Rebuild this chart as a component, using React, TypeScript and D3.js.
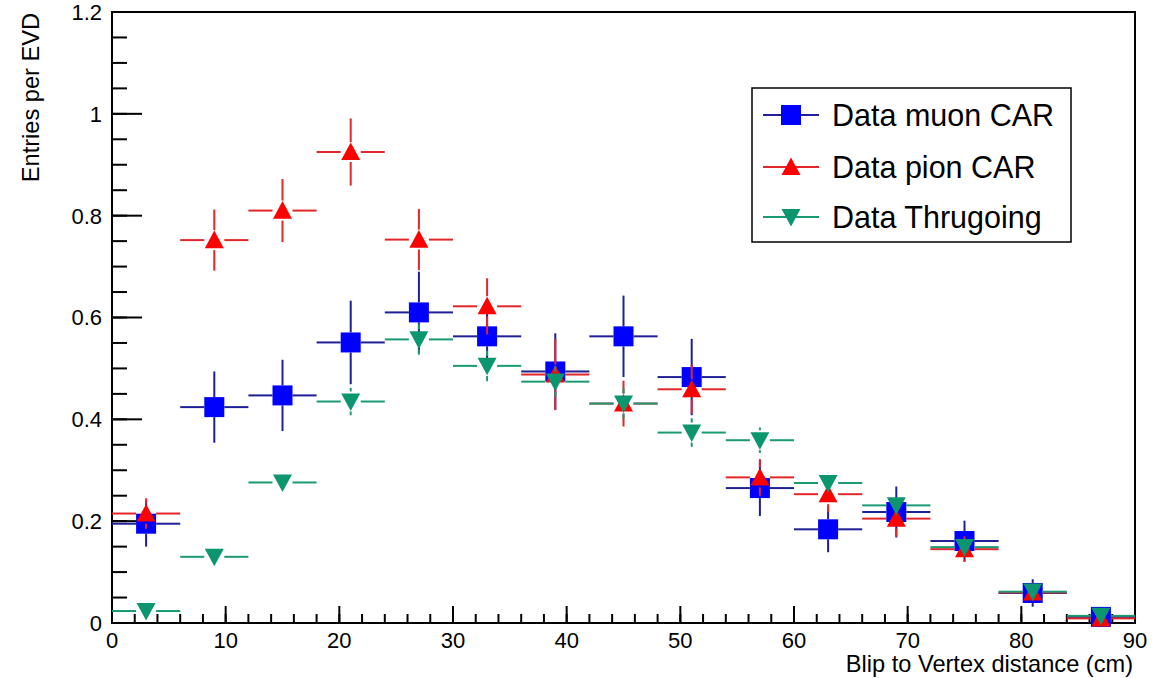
import React from "react";
import * as d3 from "d3";

const binCenters = [3, 9, 15, 21, 27, 33, 39, 45, 51, 57, 63, 69, 75, 81, 87];
const binHalfWidth = 3;

const muonValues = [0.195, 0.424, 0.447, 0.551, 0.61, 0.563, 0.494, 0.563, 0.483, 0.265, 0.184, 0.218, 0.161, 0.059, 0.012];
const muonErrors = [0.045, 0.07, 0.07, 0.082, 0.08, 0.05, 0.075, 0.08, 0.075, 0.055, 0.045, 0.05, 0.04, 0.027, 0.01];

const pionValues = [0.215, 0.752, 0.81, 0.925, 0.753, 0.622, 0.488, 0.431, 0.459, 0.286, 0.253, 0.205, 0.145, 0.06, 0.009];
const pionErrors = [0.03, 0.06, 0.062, 0.066, 0.06, 0.055, 0.07, 0.045, 0.048, 0.036, 0.035, 0.035, 0.025, 0.02, 0.008];

const thruValues = [0.0235, 0.13, 0.276, 0.435, 0.557, 0.505, 0.474, 0.431, 0.374, 0.359, 0.275, 0.231, 0.149, 0.0615, 0.014];
const thruErrors = [0.008, 0.01, 0.015, 0.027, 0.03, 0.03, 0.03, 0.03, 0.028, 0.025, 0.02, 0.02, 0.015, 0.01, 0.005];

const xMajorTicks = [0, 10, 20, 30, 40, 50, 60, 70, 80, 90];
const yMajorTicks = [0, 0.2, 0.4, 0.6, 0.8, 1, 1.2];
const yTickLabels = ["0", "0.2", "0.4", "0.6", "0.8", "1", "1.2"];

const seriesNames = ["Data muon CAR", "Data pion CAR", "Data Thrugoing"];

type Marker = "square" | "up" | "down";

const series = [
  { name: seriesNames[0], values: muonValues, errors: muonErrors, line: "#1f1f96", fill: "#0000ff", marker: "square" as Marker },
  { name: seriesNames[1], values: pionValues, errors: pionErrors, line: "#e3262a", fill: "#ff0000", marker: "up" as Marker },
  { name: seriesNames[2], values: thruValues, errors: thruErrors, line: "#199a72", fill: "#0c9670", marker: "down" as Marker },
];

const W = 1158;
const H = 678;
const FONT = "'Liberation Sans', Arial, Helvetica, sans-serif";

function MarkerShape({ kind, cx, cy, color }: { kind: Marker; cx: number; cy: number; color: string }) {
  if (kind === "square") {
    return <rect x={cx - 10} y={cy - 10} width={20} height={20} fill={color} />;
  }
  const s = 9.5;
  if (kind === "up") {
    return <path d={`M${cx},${cy - s} L${cx + s},${cy + s * 0.85} L${cx - s},${cy + s * 0.85} Z`} fill={color} />;
  }
  return <path d={`M${cx},${cy + s} L${cx + s},${cy - s * 0.85} L${cx - s},${cy - s * 0.85} Z`} fill={color} />;
}

export default function App() {
  const x = d3.scaleLinear().domain([0, 90]).range([112, 1135]);
  const y = d3.scaleLinear().domain([0, 1.2]).range([623, 12]);

  const xMinor = d3.range(0, 90.001, 2);
  const yMinor = d3.range(0, 1.2001, 0.05);

  const gap = 10;

  return (
    <svg width={W} height={H} style={{ position: "absolute", left: 0, top: 0, background: "#fff" }} fontFamily={FONT}>
      <rect x={0} y={0} width={W} height={H} fill="#fff" />
      {/* frame */}
      <rect x={x(0)} y={y(1.2)} width={x(90) - x(0)} height={y(0) - y(1.2)} fill="none" stroke="#000" strokeWidth={2} />

      {/* y ticks */}
      {yMinor.map((v, i) => (
        <line key={"ym" + i} x1={x(0)} x2={x(0) + 15} y1={y(v)} y2={y(v)} stroke="#000" strokeWidth={2} />
      ))}
      {yMajorTicks.map((v, i) => (
        <g key={"yM" + i}>
          <line x1={x(0)} x2={x(0) + 30} y1={y(v)} y2={y(v)} stroke="#000" strokeWidth={2} />
          <text x={102} y={y(v)} dy="0.36em" textAnchor="end" fontSize={22} fill="#000">
            {yTickLabels[i]}
          </text>
        </g>
      ))}

      {/* x ticks */}
      {xMinor.map((v, i) => (
        <line key={"xm" + i} x1={x(v)} x2={x(v)} y1={y(0)} y2={y(0) - 9} stroke="#000" strokeWidth={2} />
      ))}
      {xMajorTicks.map((v, i) => (
        <g key={"xM" + i}>
          <line x1={x(v)} x2={x(v)} y1={y(0)} y2={y(0) - 17} stroke="#000" strokeWidth={2} />
          <text x={x(v)} y={648} textAnchor="middle" fontSize={22} fill="#000">
            {String(v)}
          </text>
        </g>
      ))}

      {/* axis titles */}
      <text x={1133} y={672} textAnchor="end" fontSize={23.6} fill="#000">
        Blip to Vertex distance (cm)
      </text>
      <text transform={`translate(39,13) rotate(-90)`} textAnchor="end" fontSize={23.6} fill="#000">
        Entries per EVD
      </text>

      {/* series */}
      {series.map((s) => (
        <g key={s.name}>
          {binCenters.map((c, i) => {
            const cx = x(c);
            const cy = y(s.values[i]);
            const xl = x(c - binHalfWidth);
            const xr = x(c + binHalfWidth);
            const yt = y(s.values[i] + s.errors[i]);
            const yb = y(Math.max(0, s.values[i] - s.errors[i]));
            return (
              <g key={i} stroke={s.line} strokeWidth={2}>
                <line x1={xl} x2={cx - gap} y1={cy} y2={cy} />
                <line x1={cx + gap} x2={xr} y1={cy} y2={cy} />
                {cy - yt > gap && <line x1={cx} x2={cx} y1={yt} y2={cy - gap} />}
                {yb - cy > gap && <line x1={cx} x2={cx} y1={cy + gap} y2={yb} />}
              </g>
            );
          })}
          {binCenters.map((c, i) => (
            <MarkerShape key={"m" + i} kind={s.marker} cx={x(c)} cy={y(s.values[i])} color={s.fill} />
          ))}
        </g>
      ))}

      {/* legend */}
      <rect x={752} y={88} width={319} height={154} fill="#fff" stroke="#000" strokeWidth={1.5} />
      {series.map((s, i) => {
        const cy = [115, 167, 217][i];
        return (
          <g key={"lg" + i}>
            <line x1={763} x2={819} y1={cy} y2={cy} stroke={s.line} strokeWidth={2} />
            <MarkerShape kind={s.marker} cx={791} cy={cy} color={s.fill} />
            <text x={832} y={cy} dy="0.36em" fontSize={30.5} fill="#000">
              {s.name}
            </text>
          </g>
        );
      })}
    </svg>
  );
}
